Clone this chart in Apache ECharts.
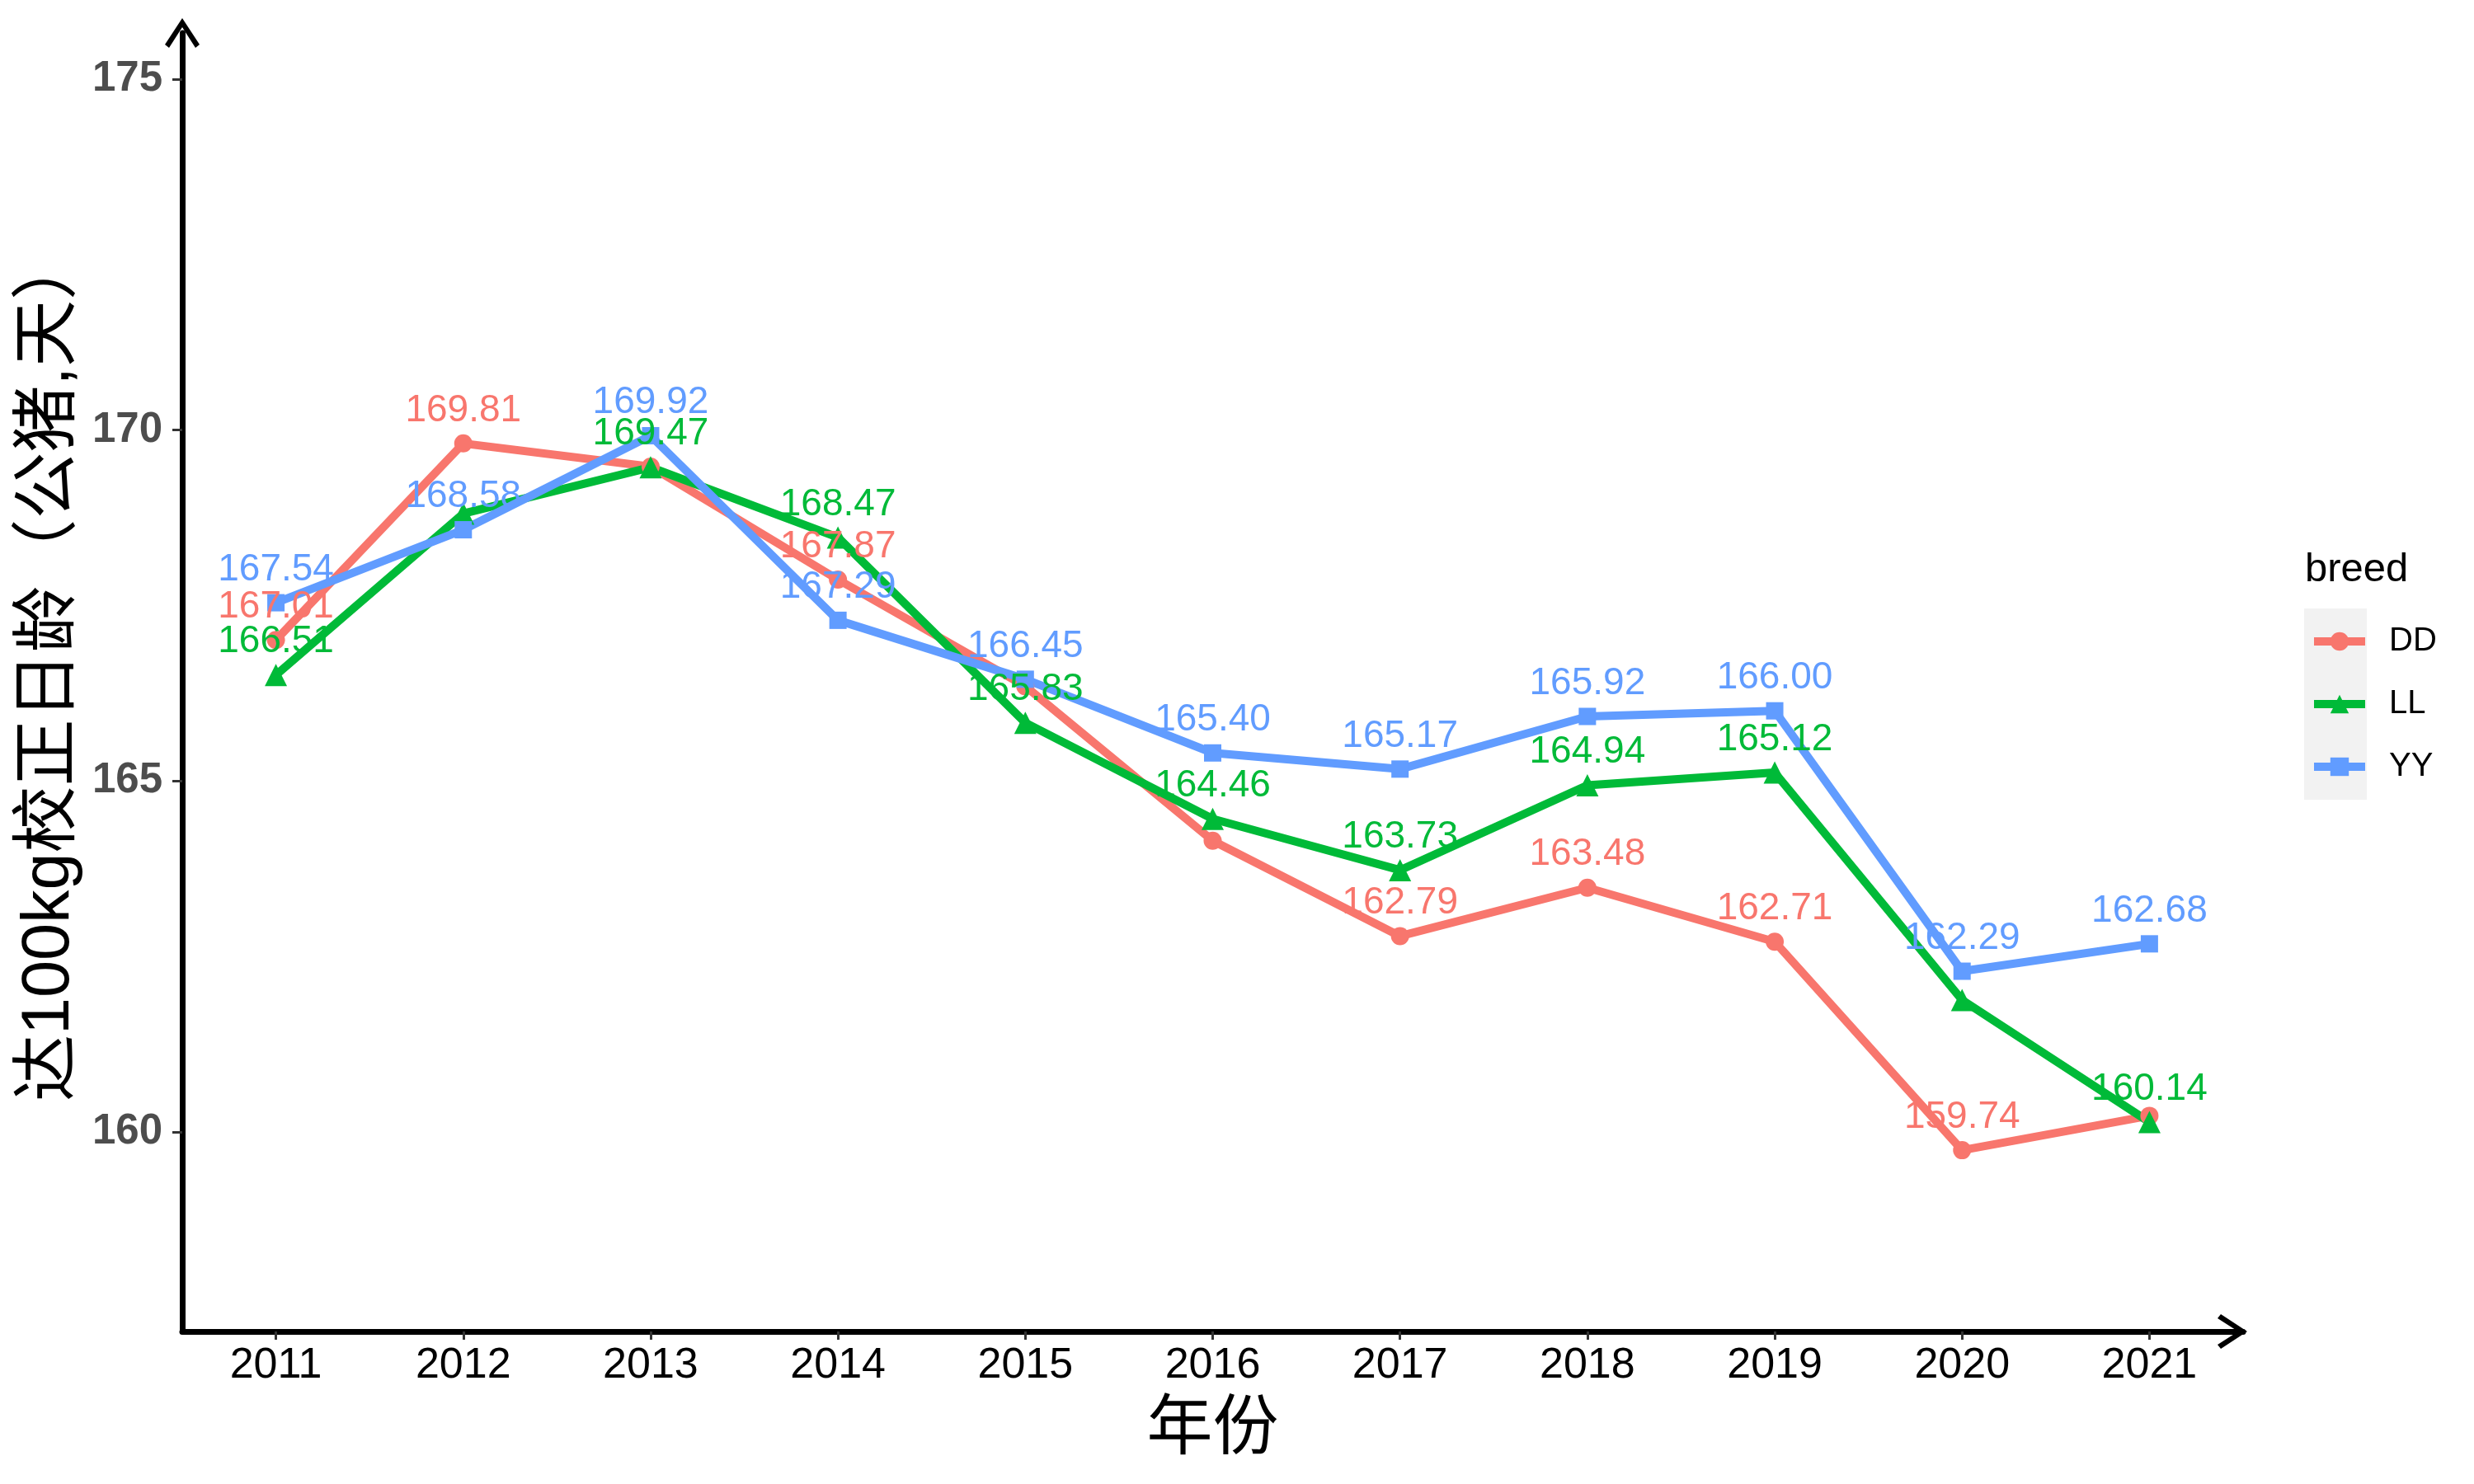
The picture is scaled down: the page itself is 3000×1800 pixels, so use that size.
<!DOCTYPE html>
<html>
<head>
<meta charset="utf-8">
<script src="https://cdn.jsdelivr.net/npm/echarts@6/dist/echarts.min.js"></script>
<style>
html,body{margin:0;padding:0;background:#fff;}
#chart{width:3000px;height:1800px;}
</style>
</head>
<body>
<div id="chart"></div>
<script>
// ---- data ----
const years = ['2011','2012','2013','2014','2015','2016','2017','2018','2019','2020','2021'];
const breeds = ['DD','LL','YY'];
const ddValues = [167.01, 169.81, 169.48, 167.87, 166.35, 164.15, 162.79, 163.48, 162.71, 159.74, 160.23];
const llValues = [166.51, 168.81, 169.47, 168.47, 165.83, 164.46, 163.73, 164.94, 165.12, 161.88, 160.14];
const yyValues = [167.54, 168.58, 169.92, 167.29, 166.45, 165.40, 165.17, 165.92, 166.00, 162.29, 162.68];
// labels dropped in the reference because they overlapped others
const ddHiddenLabels = ['2013','2015','2016','2021'];
const llHiddenLabels = ['2012','2020'];
const yyHiddenLabels = [];
const yTickValues = [160, 165, 170, 175];

const colors = {DD:'#F8766D', LL:'#00BA38', YY:'#619CFF'};
const symbols = {DD:'circle', LL:'triangle', YY:'rect'};
const symbolSizes = {DD:22, LL:27, YY:21};

function buildData(values, hidden){
  return values.map((v,i)=> hidden.indexOf(years[i]) >= 0 ? {value:v, label:{show:false}} : {value:v});
}
const seriesData = {
  DD: buildData(ddValues, ddHiddenLabels),
  LL: buildData(llValues, llHiddenLabels),
  YY: buildData(yyValues, yyHiddenLabels)
};

const arrowPath = 'path://M21,0 L42,32 L37,36 L21,11 L5,36 L0,32 Z';
const sansFont = 'Liberation Sans, Arial, sans-serif';
const cjkFont = 'Liberation Sans, Noto Sans CJK SC, sans-serif';

const chart = echarts.init(document.getElementById('chart'), null, {renderer:'canvas'});
const option = {
  animation: false,
  backgroundColor: '#ffffff',
  grid: {left: 221, right: 280, top: 40, bottom: 185, containLabel: false},
  xAxis: {
    type: 'category',
    data: years,
    boundaryGap: true,
    name: '年份',
    nameLocation: 'middle',
    nameGap: 80,
    nameTextStyle: {fontSize: 80, color: '#000', fontFamily: cjkFont},
    axisLine: {show: true, lineStyle: {color: '#000', width: 7}, symbol: ['none', arrowPath], symbolSize: [42, 36], symbolOffset: [0, -13]},
    axisTick: {show: true, alignWithLabel: true, length: 10, lineStyle: {color: '#333333', width: 3}},
    axisLabel: {fontSize: 52, color: '#000', fontFamily: sansFont, margin: 16, interval: 0},
    splitLine: {show: false}
  },
  yAxis: {
    type: 'value',
    min: 157.157,
    max: 175.658,
    name: '达100kg校正日龄（公猪,天）',
    nameLocation: 'middle',
    nameRotate: 90,
    nameGap: 118,
    nameTextStyle: {fontSize: 81, color: '#000', fontFamily: cjkFont, padding: [0, 0, 0, 36]},
    axisLine: {show: true, lineStyle: {color: '#000', width: 7}, symbol: ['none', arrowPath], symbolSize: [42, 36]},
    axisTick: {show: true, length: 12, lineStyle: {color: '#333333', width: 3}, customValues: yTickValues},
    axisLabel: {fontSize: 51, fontWeight: 'bold', color: '#4D4D4D', fontFamily: sansFont, margin: 24, customValues: yTickValues},
    splitLine: {show: false}
  },
  legend: {
    orient: 'vertical',
    left: 2801,
    top: 758,
    padding: 0,
    itemWidth: 62,
    itemHeight: 28,
    itemGap: 36,
    data: breeds,
    lineStyle: {width: 10},
    textStyle: {fontSize: 40, lineHeight: 40, color: '#000', fontFamily: sansFont, padding: [0, 0, 0, 24]}
  },
  graphic: [
    {type: 'rect', left: 2794, top: 738, z: 0, shape: {width: 76, height: 232}, style: {fill: '#F2F2F2'}},
    {type: 'text', left: 2795, top: 667, z: 1, style: {text: 'breed', fontSize: 49, fill: '#000', fontFamily: sansFont}}
  ],
  series: breeds.map(b => ({
    name: b,
    type: 'line',
    data: seriesData[b],
    symbol: symbols[b],
    symbolSize: symbolSizes[b],
    showSymbol: true,
    lineStyle: {color: colors[b], width: 10},
    itemStyle: {color: colors[b]},
    label: {
      show: true,
      position: 'inside',
      offset: [0, -40],
      fontSize: 46,
      fontFamily: sansFont,
      color: colors[b],
      formatter: p => Number(p.value).toFixed(2)
    },
    emphasis: {disabled: true},
    z: 2
  }))
};
chart.setOption(option);
</script>
</body>
</html>
